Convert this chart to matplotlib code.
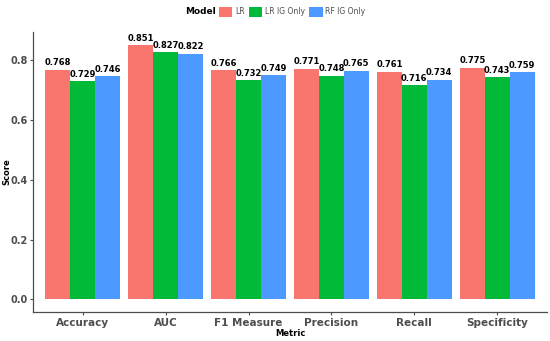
import matplotlib.pyplot as plt
import numpy as np

metrics = ["Accuracy", "AUC", "F1 Measure", "Precision", "Recall", "Specificity"]
models = ["LR", "LR IG Only", "RF IG Only"]
lr = [0.768, 0.851, 0.766, 0.771, 0.761, 0.775]
lr_ig = [0.729, 0.827, 0.732, 0.748, 0.716, 0.743]
rf_ig = [0.746, 0.822, 0.749, 0.765, 0.734, 0.759]
colors = ["#F8766D", "#00BA38", "#4C9AFF"]

fig = plt.figure(figsize=(5.5, 3.41), dpi=100)
ax = fig.add_axes([0.06, 0.085, 0.9345, 0.821])

x = np.arange(1, len(metrics) + 1)
w = 0.3
series = [lr, lr_ig, rf_ig]
for i, (vals, c, name) in enumerate(zip(series, colors, models)):
    pos = x + (i - 1) * w
    ax.bar(pos, vals, width=w, color=c, label=name)
    for p, v in zip(pos, vals):
        ax.text(p, v + 0.008, f"{v:.3f}", ha="center", va="bottom",
                fontsize=6, fontweight="bold", color="black")

ax.set_xlim(0.4, 6.6)
ax.set_ylim(-0.0425, 0.894)
ax.set_xticks(x)
ax.set_xticklabels(metrics, fontsize=7.5, fontweight="bold", color="#4d4d4d")
ax.set_yticks([0.0, 0.2, 0.4, 0.6, 0.8])
ax.set_yticklabels(["0.0", "0.2", "0.4", "0.6", "0.8"], fontsize=7,
                   fontweight="bold", color="#4d4d4d")
ax.tick_params(axis="both", length=2.5, width=0.8, color="#4d4d4d", pad=1.5)
ax.set_xlabel("Metric", fontsize=6, fontweight="bold", labelpad=1)
ax.set_ylabel("Score", fontsize=6, fontweight="bold", va="center")
ax.yaxis.set_label_coords(-0.05, 0.5)

for s in ["top", "right"]:
    ax.spines[s].set_visible(False)
for s in ["left", "bottom"]:
    ax.spines[s].set_color("#4d4d4d")
    ax.spines[s].set_linewidth(0.9)

handles, labels = ax.get_legend_handles_labels()
leg = fig.legend(handles, labels, loc="center", bbox_to_anchor=(0.531, 0.965),
                 ncol=3, frameon=False, fontsize=5.5,
                 handlelength=1.8, handleheight=1.8, handletextpad=0.35,
                 columnspacing=0.5, borderpad=0)
for t in leg.get_texts():
    t.set_color("#4d4d4d")
fig.text(0.392, 0.965, "Model", fontsize=6.5, fontweight="bold", ha="right", va="center")

fig.savefig("out.png", dpi=100)
